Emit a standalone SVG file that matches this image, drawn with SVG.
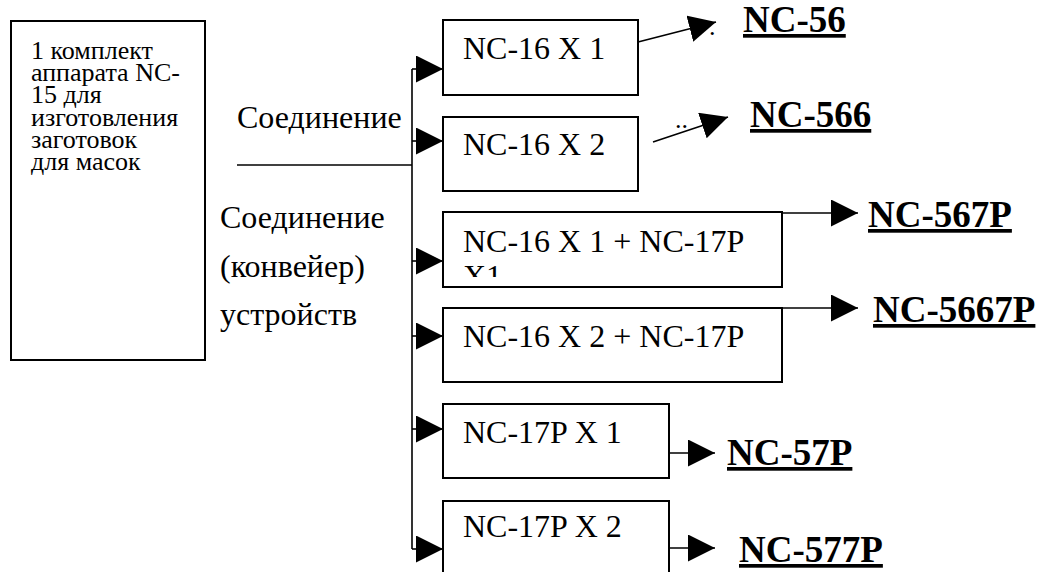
<svg xmlns="http://www.w3.org/2000/svg" width="1037" height="572" viewBox="0 0 1037 572">
<defs>
<marker id="ah" markerUnits="userSpaceOnUse" markerWidth="28" markerHeight="28" refX="27" refY="13.5" orient="auto" viewBox="0 0 28 28">
<path d="M0,0 L27,13.5 L0,27 Z" fill="#000"/>
</marker>
<clipPath id="c3"><rect x="443" y="212" width="339" height="65"/></clipPath>
</defs>
<rect width="1037" height="572" fill="#fff"/>
<g id="source" font-family="Liberation Serif" font-size="26">
<rect x="11" y="21" width="194" height="339" fill="#fff" stroke="#000" stroke-width="2"/>
<text x="31" y="59">1 комплект</text>
<text x="31" y="81">аппарата NC-</text>
<text x="31" y="103">15 для</text>
<text x="31" y="126">изготовления</text>
<text x="31" y="148">заготовок</text>
<text x="31" y="170">для масок</text>
</g>
<g id="labels-mid" font-family="Liberation Serif" font-size="32">
<text x="237" y="128">Соединение</text>
<text x="220" y="228">Соединение</text>
<text x="220" y="277">(конвейер)</text>
<text x="220" y="325">устройств</text>
</g>
<g font-family="Liberation Serif" font-size="32" fill="none" stroke="#000" stroke-width="2">
<g id="n1"><rect x="443" y="20" width="195" height="75" fill="#fff"/><text x="463" y="59" fill="#000" stroke="none">NC-16 X 1</text></g>
<g id="n2"><rect x="443" y="117" width="195" height="74" fill="#fff"/><text x="463" y="155" fill="#000" stroke="none">NC-16 X 2</text></g>
<g id="n3"><rect x="443" y="212" width="339" height="75" fill="#fff"/><g clip-path="url(#c3)" fill="#000" stroke="none"><text x="463" y="252">NC-16 X 1 + NC-17P</text><text x="463" y="287">X1</text></g></g>
<g id="n4"><rect x="443" y="308" width="339" height="74" fill="#fff"/><text x="463" y="347" fill="#000" stroke="none">NC-16 X 2 + NC-17P</text></g>
<g id="n5"><rect x="443" y="404" width="226" height="74" fill="#fff"/><text x="463" y="443" fill="#000" stroke="none">NC-17P X 1</text></g>
<g id="n6"><rect x="443" y="501" width="226" height="80" fill="#fff"/><text x="463" y="537" fill="#000" stroke="none">NC-17P X 2</text></g>
</g>
<g id="out" font-family="Liberation Serif" font-size="37" font-weight="bold" text-decoration="underline">
<text x="743" y="32">NC-56</text>
<text x="750" y="127">NC-566</text>
<text x="868" y="227">NC-567P</text>
<text x="873" y="322">NC-5667P</text>
<text x="727" y="465">NC-57P</text>
<text x="739" y="562">NC-577P</text>
</g>
<g id="dots" font-family="Liberation Serif" font-size="26">
<text x="709" y="35">.</text>
<text x="675" y="128">..</text>
</g>
<g id="connectors" fill="none" stroke="#000" stroke-width="1.6">
<path d="M237,165 H412"/>
<path d="M412,69 V549"/>
<g marker-end="url(#ah)">
<path d="M412,69 H443"/>
<path d="M412,141 H443"/>
<path d="M412,261 H443"/>
<path d="M412,336 H443"/>
<path d="M412,429 H443"/>
<path d="M412,549 H443"/>
<path d="M638,42 L716,22"/>
<path d="M653,142 L728,117"/>
<path d="M782,213 H858"/>
<path d="M782,308 H858"/>
<path d="M669,453 H715"/>
<path d="M669,548 H715"/>
</g>
</g>
</svg>
